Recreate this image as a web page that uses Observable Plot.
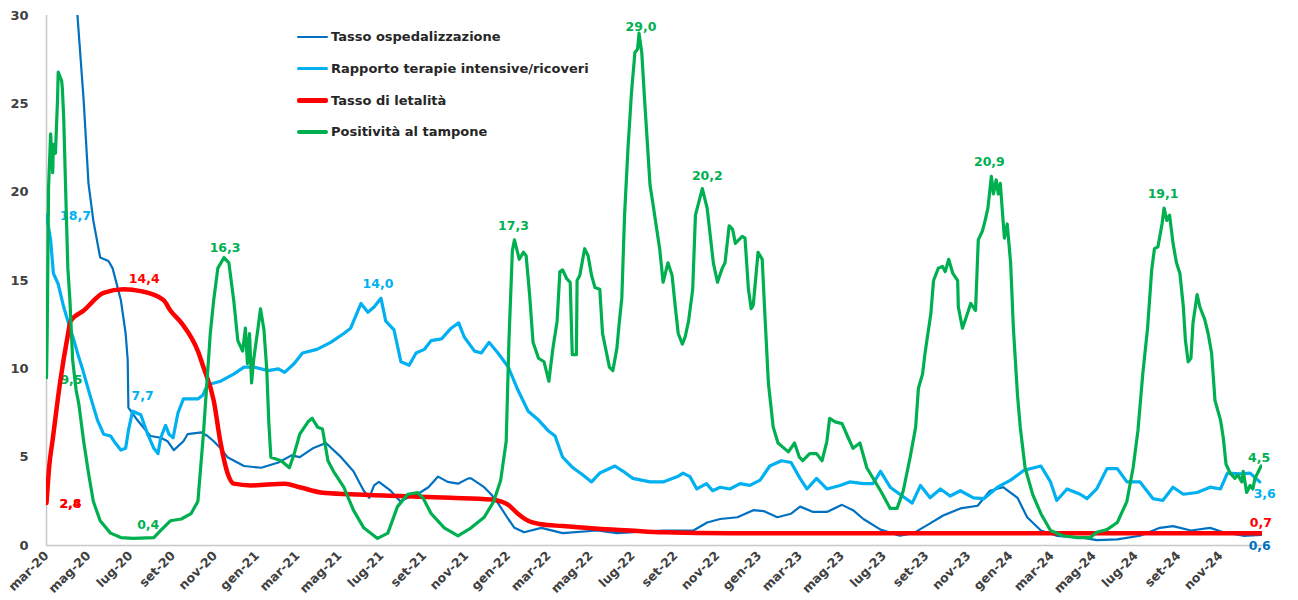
<!DOCTYPE html>
<html>
<head>
<meta charset="utf-8">
<script src="https://cdn.jsdelivr.net/npm/d3@7"></script>
<script src="https://cdn.jsdelivr.net/npm/@observablehq/plot@0.6"></script>
<style>
  html, body { margin: 0; padding: 0; background: #fff; }
  #wrap { position: relative; width: 1298px; height: 600px; overflow: hidden; }
  #chart svg text { font-weight: 700; }
  #legend { position: absolute; left: 297px; top: 21px; font-family: "DejaVu Sans", sans-serif; font-weight: 700; font-size: 13px; color: #262626; }
  #legend .row { height: 31.7px; display: flex; align-items: center; }
  #legend .swatch { width: 31px; margin-right: 3px; border-radius: 2px; }
</style>
</head>
<body>
<div id="wrap"><div id="chart"></div><div id="legend"></div></div>
<script>
// ---- Series names (legend order) ----
const seriesNames = ["Tasso ospedalizzazione", "Rapporto terapie intensive/ricoveri", "Tasso di letalità", "Positività al tampone"];

// ---- Italian month abbreviations for tick labels ----
const monthNames = ["gen", "feb", "mar", "apr", "mag", "giu", "lug", "ago", "set", "ott", "nov", "dic"];
const yTicks = [0, 5, 10, 15, 20, 25, 30];

// ---- Tasso ospedalizzazione ----
const hospitalization = [
["2020-03-01",55],["2020-04-15",30.0],["2020-04-24",25.2],["2020-05-01",20.5],["2020-05-08",18.4],["2020-05-18",16.3],["2020-05-30",16.1],["2020-06-05",15.7],["2020-06-17",13.9],["2020-06-24",12.0],["2020-06-27",10.5],["2020-06-28",7.8],["2020-07-11",7.1],["2020-07-30",6.2],["2020-08-14",6.1],["2020-08-24",5.9],["2020-09-02",5.4],["2020-09-16",5.9],["2020-09-22",6.3],["2020-10-12",6.4],["2020-10-21",6.2],["2020-10-30",5.9],["2020-11-09",5.5],["2020-11-19",5.0],["2020-12-13",4.5],["2021-01-07",4.4],["2021-02-01",4.7],["2021-02-20",5.1],["2021-03-04",5.0],["2021-03-23",5.5],["2021-04-11",5.8],["2021-05-03",5.0],["2021-05-21",4.2],["2021-06-05",3.1],["2021-06-13",2.7],["2021-06-20",3.4],["2021-06-27",3.6],["2021-07-14",3.1],["2021-07-28",2.5],["2021-08-08",2.7],["2021-08-22",2.9],["2021-09-07",3.3],["2021-09-21",3.9],["2021-10-05",3.6],["2021-10-20",3.5],["2021-11-04",3.8],["2021-11-08",3.8],["2021-11-27",3.3],["2021-12-07",2.9],["2021-12-17",2.4],["2022-01-01",1.5],["2022-01-10",1.0],["2022-01-24",0.75],["2022-02-18",1.0],["2022-03-21",0.7],["2022-05-10",0.85],["2022-06-08",0.7],["2022-08-14",0.85],["2022-09-27",0.85],["2022-10-17",1.3],["2022-11-05",1.5],["2022-11-30",1.6],["2022-12-23",2.0],["2023-01-07",1.95],["2023-01-27",1.6],["2023-02-16",1.8],["2023-03-01",2.2],["2023-03-20",1.9],["2023-04-09",1.9],["2023-05-01",2.3],["2023-05-17",2.0],["2023-06-01",1.5],["2023-06-26",0.9],["2023-07-24",0.55],["2023-08-13",0.7],["2023-09-06",1.25],["2023-09-25",1.7],["2023-10-20",2.1],["2023-11-14",2.25],["2023-12-02",3.1],["2023-12-21",3.3],["2024-01-11",2.7],["2024-01-25",1.6],["2024-02-14",0.85],["2024-03-08",0.55],["2024-04-15",0.45],["2024-05-05",0.3],["2024-06-04",0.35],["2024-07-07",0.55],["2024-08-05",1.0],["2024-08-24",1.1],["2024-09-19",0.85],["2024-10-17",1.0],["2024-11-05",0.75],["2024-12-04",0.55],["2024-12-30",0.6]
];

// ---- Rapporto terapie intensive/ricoveri ----
const icuRatio = [
["2020-03-01",18.7],["2020-03-07",17.3],["2020-03-11",15.4],["2020-03-18",14.8],["2020-03-26",13.5],["2020-04-05",12.2],["2020-04-10",11.6],["2020-04-15",10.9],["2020-04-23",9.9],["2020-05-04",8.4],["2020-05-14",7.1],["2020-05-23",6.3],["2020-06-02",6.2],["2020-06-09",5.8],["2020-06-17",5.4],["2020-06-24",5.5],["2020-06-28",6.5],["2020-07-04",7.6],["2020-07-16",7.4],["2020-07-26",6.3],["2020-08-04",5.5],["2020-08-10",5.2],["2020-08-14",6.1],["2020-08-21",6.8],["2020-08-26",6.3],["2020-09-01",6.1],["2020-09-08",7.5],["2020-09-16",8.3],["2020-10-07",8.3],["2020-10-14",8.5],["2020-10-21",9.1],["2020-11-09",9.3],["2020-11-28",9.7],["2020-12-13",10.1],["2020-12-27",10.1],["2021-01-17",9.9],["2021-02-01",10.0],["2021-02-10",9.8],["2021-02-24",10.3],["2021-03-08",10.9],["2021-03-29",11.1],["2021-04-18",11.5],["2021-05-07",12.0],["2021-05-17",12.3],["2021-06-01",13.7],["2021-06-11",13.2],["2021-06-20",13.5],["2021-06-30",14.0],["2021-07-07",12.7],["2021-07-19",12.2],["2021-07-29",10.4],["2021-08-10",10.2],["2021-08-20",10.9],["2021-09-01",11.1],["2021-09-11",11.6],["2021-09-26",11.7],["2021-10-10",12.3],["2021-10-21",12.6],["2021-10-29",11.8],["2021-11-13",11.0],["2021-11-23",10.9],["2021-12-04",11.5],["2021-12-17",10.9],["2022-01-01",10.1],["2022-01-15",8.8],["2022-01-30",7.6],["2022-02-14",7.1],["2022-02-28",6.5],["2022-03-10",6.2],["2022-03-21",5.0],["2022-04-05",4.4],["2022-04-19",4.0],["2022-05-02",3.6],["2022-05-14",4.1],["2022-06-05",4.5],["2022-06-17",4.2],["2022-07-01",3.8],["2022-07-26",3.6],["2022-08-14",3.6],["2022-09-04",3.9],["2022-09-12",4.1],["2022-09-22",3.9],["2022-10-02",3.2],["2022-10-16",3.5],["2022-10-25",3.1],["2022-11-05",3.3],["2022-11-19",3.2],["2022-12-04",3.5],["2022-12-18",3.4],["2023-01-02",3.7],["2023-01-16",4.5],["2023-02-02",4.8],["2023-02-16",4.7],["2023-03-01",3.8],["2023-03-11",3.2],["2023-03-25",3.8],["2023-04-09",3.2],["2023-04-28",3.4],["2023-05-12",3.6],["2023-06-01",3.5],["2023-06-15",3.5],["2023-06-26",4.2],["2023-07-10",3.3],["2023-07-24",2.9],["2023-08-11",2.4],["2023-08-23",3.4],["2023-09-06",2.7],["2023-09-21",3.2],["2023-10-05",2.8],["2023-10-20",3.1],["2023-11-08",2.7],["2023-11-23",2.65],["2023-12-13",3.3],["2024-01-01",3.7],["2024-01-20",4.25],["2024-02-14",4.5],["2024-02-28",3.6],["2024-03-08",2.55],["2024-03-23",3.2],["2024-04-11",2.9],["2024-04-21",2.65],["2024-05-05",3.2],["2024-05-20",4.35],["2024-06-04",4.35],["2024-06-18",3.6],["2024-07-07",3.6],["2024-07-26",2.65],["2024-08-09",2.55],["2024-08-24",3.3],["2024-09-08",2.9],["2024-09-28",3.0],["2024-10-17",3.3],["2024-11-01",3.2],["2024-11-11",4.1],["2024-11-30",4.05],["2024-12-14",4.1],["2024-12-28",3.6]
];

// ---- Tasso di letalità ----
const lethality = [
["2020-03-01",2.4],["2020-03-05",4.5],["2020-03-10",6.0],["2020-03-21",9.3],["2020-04-01",11.9],["2020-04-05",12.7],["2020-04-24",13.3],["2020-05-23",14.3],["2020-06-21",14.5],["2020-07-16",14.4],["2020-08-18",13.9],["2020-08-28",13.3],["2020-09-13",12.6],["2020-10-07",11.0],["2020-10-15",10.1],["2020-10-30",8.2],["2020-11-09",5.8],["2020-11-19",4.1],["2020-11-28",3.5],["2020-12-23",3.4],["2021-02-10",3.5],["2021-03-04",3.3],["2021-04-04",3.0],["2021-05-17",2.9],["2021-07-28",2.8],["2021-10-09",2.7],["2021-12-07",2.6],["2021-12-21",2.5],["2022-01-01",2.3],["2022-01-15",1.8],["2022-01-30",1.4],["2022-02-18",1.2],["2022-03-21",1.1],["2022-05-10",0.95],["2022-06-27",0.85],["2022-08-14",0.75],["2022-11-20",0.7],["2024-12-31",0.7]
];

// ---- Positività al tampone ----
const positivity = [
["2020-03-01",9.5],["2020-03-02",12.0],["2020-03-04",20.3],["2020-03-07",23.3],["2020-03-10",21.1],["2020-03-11",22.7],["2020-03-14",22.2],["2020-03-17",25.2],["2020-03-18",26.8],["2020-03-23",26.3],["2020-03-24",25.9],["2020-03-26",24.2],["2020-03-29",19.9],["2020-04-01",15.7],["2020-04-04",13.9],["2020-04-08",10.5],["2020-04-13",8.8],["2020-04-17",8.0],["2020-04-24",5.9],["2020-05-01",4.1],["2020-05-08",2.5],["2020-05-18",1.4],["2020-06-02",0.7],["2020-06-17",0.45],["2020-07-05",0.4],["2020-08-04",0.45],["2020-08-14",0.85],["2020-08-28",1.4],["2020-09-13",1.5],["2020-09-27",1.8],["2020-10-07",2.5],["2020-10-15",6.3],["2020-10-25",12.0],["2020-10-30",13.9],["2020-11-05",15.7],["2020-11-14",16.3],["2020-11-21",16.0],["2020-11-28",13.9],["2020-12-04",11.6],["2020-12-11",11.0],["2020-12-15",12.3],["2020-12-18",10.3],["2020-12-21",12.0],["2020-12-24",9.2],["2020-12-27",10.5],["2021-01-02",12.2],["2021-01-06",13.4],["2021-01-11",12.2],["2021-01-15",10.0],["2021-01-18",7.0],["2021-01-21",5.0],["2021-02-05",4.8],["2021-02-17",4.4],["2021-02-24",5.2],["2021-03-04",6.3],["2021-03-16",7.0],["2021-03-22",7.2],["2021-03-30",6.7],["2021-04-06",6.6],["2021-04-14",4.8],["2021-04-22",4.2],["2021-05-07",3.3],["2021-05-21",2.0],["2021-06-05",1.0],["2021-06-25",0.4],["2021-07-10",0.7],["2021-07-24",2.2],["2021-08-08",2.9],["2021-08-22",3.0],["2021-08-30",2.7],["2021-09-11",1.8],["2021-09-30",1.0],["2021-10-20",0.55],["2021-11-08",1.0],["2021-11-27",1.6],["2021-12-11",2.5],["2021-12-21",3.7],["2021-12-29",5.9],["2022-01-02",11.6],["2022-01-07",16.7],["2022-01-10",17.3],["2022-01-17",16.2],["2022-01-23",16.6],["2022-01-27",16.4],["2022-02-01",14.2],["2022-02-06",11.5],["2022-02-14",10.6],["2022-02-22",10.4],["2022-03-01",9.3],["2022-03-07",11.2],["2022-03-13",12.7],["2022-03-17",15.5],["2022-03-21",15.6],["2022-03-27",15.1],["2022-04-01",14.9],["2022-04-04",10.8],["2022-04-10",10.8],["2022-04-11",15.0],["2022-04-15",15.3],["2022-04-22",16.8],["2022-04-27",16.4],["2022-05-02",15.3],["2022-05-07",14.6],["2022-05-14",14.5],["2022-05-18",12.0],["2022-05-28",10.1],["2022-06-02",9.9],["2022-06-08",11.2],["2022-06-11",12.5],["2022-06-15",14.0],["2022-06-19",18.7],["2022-06-24",22.5],["2022-06-29",25.6],["2022-07-04",27.9],["2022-07-08",28.1],["2022-07-10",29.0],["2022-07-14",27.9],["2022-07-18",25.3],["2022-07-26",20.4],["2022-07-30",19.4],["2022-08-09",16.8],["2022-08-14",14.9],["2022-08-21",16.0],["2022-08-27",15.3],["2022-09-01",13.4],["2022-09-05",12.0],["2022-09-11",11.4],["2022-09-15",11.8],["2022-09-20",12.7],["2022-09-26",14.5],["2022-09-30",18.7],["2022-10-10",20.2],["2022-10-17",19.1],["2022-10-26",16.0],["2022-11-01",14.9],["2022-11-08",15.7],["2022-11-12",16.0],["2022-11-18",18.1],["2022-11-23",17.9],["2022-11-27",17.1],["2022-12-07",17.5],["2022-12-11",17.4],["2022-12-16",14.5],["2022-12-20",13.4],["2022-12-23",13.6],["2022-12-30",16.6],["2023-01-05",16.2],["2023-01-09",13.0],["2023-01-14",9.2],["2023-01-21",6.7],["2023-01-28",5.8],["2023-02-12",5.3],["2023-02-21",5.8],["2023-02-28",5.0],["2023-03-05",4.8],["2023-03-15",5.2],["2023-03-25",5.2],["2023-04-02",4.8],["2023-04-09",5.9],["2023-04-13",7.2],["2023-04-21",7.0],["2023-05-01",6.9],["2023-05-10",6.1],["2023-05-17",5.5],["2023-05-27",5.8],["2023-06-06",4.4],["2023-06-26",3.1],["2023-07-10",2.1],["2023-07-20",2.1],["2023-07-29",3.1],["2023-08-08",5.0],["2023-08-16",6.7],["2023-08-20",8.9],["2023-08-26",9.7],["2023-08-30",11.0],["2023-09-07",13.1],["2023-09-11",15.0],["2023-09-18",15.7],["2023-09-24",15.8],["2023-09-28",15.5],["2023-10-03",16.2],["2023-10-09",15.4],["2023-10-16",15.0],["2023-10-17",13.5],["2023-10-23",12.3],["2023-10-30",13.1],["2023-11-04",13.7],["2023-11-11",13.3],["2023-11-15",17.3],["2023-11-21",17.8],["2023-11-25",18.4],["2023-11-29",19.1],["2023-12-04",20.9],["2023-12-07",19.9],["2023-12-11",20.7],["2023-12-14",19.9],["2023-12-17",20.5],["2023-12-21",18.4],["2023-12-23",17.4],["2023-12-27",18.2],["2024-01-01",16.0],["2024-01-05",12.3],["2024-01-11",8.5],["2024-01-15",6.7],["2024-01-22",4.4],["2024-02-02",2.9],["2024-02-14",1.8],["2024-02-28",0.85],["2024-03-17",0.55],["2024-04-07",0.45],["2024-04-26",0.45],["2024-05-05",0.75],["2024-05-20",0.9],["2024-06-04",1.3],["2024-06-18",2.5],["2024-06-27",4.4],["2024-07-04",6.5],["2024-07-11",9.7],["2024-07-18",12.3],["2024-07-24",15.6],["2024-07-28",16.8],["2024-08-02",16.9],["2024-08-08",18.2],["2024-08-11",19.1],["2024-08-15",18.4],["2024-08-19",18.7],["2024-08-24",17.1],["2024-08-29",16.0],["2024-09-03",15.4],["2024-09-08",13.5],["2024-09-11",11.6],["2024-09-15",10.4],["2024-09-19",10.6],["2024-09-22",12.6],["2024-09-28",14.2],["2024-10-02",13.5],["2024-10-09",12.8],["2024-10-14",12.0],["2024-10-19",10.9],["2024-10-24",8.2],["2024-11-01",7.1],["2024-11-05",6.1],["2024-11-09",4.6],["2024-11-15",4.1],["2024-11-22",3.8],["2024-11-26",4.0],["2024-12-02",3.6],["2024-12-04",4.2],["2024-12-09",3.0],["2024-12-14",3.4],["2024-12-18",3.2],["2024-12-21",3.8],["2024-12-25",4.1],["2024-12-30",4.5]
];

// ---- Data labels: [date, value, text, series index] ----
const annotations = [
["2020-03-01",18.7,"18,7",1],["2020-03-01",9.5,"9,5",3],["2020-03-01",2.4,"2,8",2],["2020-03-01",2.4,"2,4",2],
["2020-07-21",14.4,"14,4",2],["2020-07-04",7.7,"7,7",1],["2020-07-05",0.4,"0,4",3],["2020-11-14",16.3,"16,3",3],
["2021-06-30",14.0,"14,0",1],["2022-01-10",17.3,"17,3",3],["2022-07-10",29.0,"29,0",3],["2022-10-10",20.2,"20,2",3],
["2023-12-04",20.9,"20,9",3],["2024-08-11",19.1,"19,1",3],["2024-12-30",4.5,"4,5",3],["2024-12-28",3.6,"3,6",1],
["2024-12-31",0.7,"0,7",2],["2024-12-28",0.6,"0,6",0]
];

// ---------------- rendering ----------------
const colors = ["#0070C0", "#00B0F0", "#FF0000", "#00B050"];
const widths = [2.2, 3.2, 4.5, 3.2];
const parse = d3.utcParse("%Y-%m-%d");
const rows = arr => arr.map(([d, v]) => ({date: parse(d), value: v}));
const seriesData = [hospitalization, icuRatio, lethality, positivity].map(rows);

// label offsets in pixels relative to the annotated point
const labelOffsets = {
  "18,7": [29, 1], "9,5": [25, 2], "2,8": [24, 1], "2,4": [24, 1], "14,4": [0, -12], "7,7": [10, -13],
  "0,4": [15, -13], "16,3": [1, -10], "14,0": [-3, -14], "17,3": [-1, -14], "29,0": [2, -6], "20,2": [5, -13],
  "20,9": [-2, -14], "19,1": [-1, -14], "4,5": [-2, -8], "3,6": [5, 12], "0,7": [-1, -10], "0,6": [0, 11]
};
const ann = annotations.map(([d, v, t, s]) => ({date: parse(d), value: v, text: t, s}));

const xStart = parse("2020-03-01"), xEnd = parse("2025-01-01");
const xTicks = d3.utcMonth.every(2).range(xStart, parse("2024-12-01"));
const fmt = d => `${monthNames[d.getUTCMonth()]}-${String(d.getUTCFullYear()).slice(2)}`;

const lineOrder = [0, 1, 2, 3];
const marks = [
  Plot.axisY({ticks: yTicks, tickSize: 0, tickPadding: 18, label: null, fontSize: 13, fill: "#404040"}),
  Plot.axisX({ticks: xTicks, tickFormat: fmt, tickRotate: -45, tickSize: 0, tickPadding: 8, label: null, fontSize: 12.5, fill: "#404040"}),
  Plot.ruleX([xStart], {stroke: "#c8c8c8", strokeWidth: 1.5}),
  Plot.ruleY([0], {stroke: "#c8c8c8", strokeWidth: 1.5}),
];
// labels below the lines
for (const a of ann) {
  const [dx, dy] = labelOffsets[a.text];
  marks.push(Plot.text([a], {x: "date", y: "value", text: "text", dx, dy, fill: colors[a.s], fontSize: 12.5, fontWeight: "bold", lineAnchor: "middle", textAnchor: "middle"}));
}
for (const i of lineOrder) {
  marks.push(Plot.lineY(seriesData[i], {
    x: "date", y: "value", stroke: colors[i], strokeWidth: widths[i], clip: true,
    curve: i === 2 ? "monotone-x" : "linear", strokeLinejoin: "round", strokeLinecap: "round"
  }));
}

const chart = Plot.plot({
  width: 1298, height: 600,
  marginLeft: 46, marginRight: 36, marginTop: 15, marginBottom: 55,
  style: {fontFamily: "DejaVu Sans, sans-serif", background: "#fff", overflow: "visible"},
  x: {type: "utc", domain: [xStart, xEnd]},
  y: {domain: [0, 30]},
  marks
});
document.getElementById("chart").appendChild(chart);

// legend
const legend = document.getElementById("legend");
const swatchH = [2.5, 3.5, 5, 3.5];
seriesNames.forEach((name, i) => {
  const row = document.createElement("div"); row.className = "row";
  const sw = document.createElement("span"); sw.className = "swatch";
  sw.style.height = swatchH[i] + "px"; sw.style.background = colors[i];
  const tx = document.createElement("span"); tx.textContent = name;
  row.appendChild(sw); row.appendChild(tx); legend.appendChild(row);
});
</script>
</body>
</html>
